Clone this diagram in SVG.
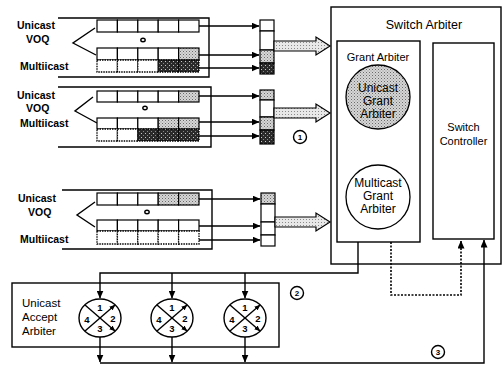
<svg xmlns="http://www.w3.org/2000/svg" width="504" height="367" viewBox="0 0 504 367">
<defs>
<pattern id="gray" width="3" height="3" patternUnits="userSpaceOnUse"><rect width="3" height="3" fill="#d6d6d6"/><rect x="0" y="0" width="1" height="1" fill="#6a6a6a"/><rect x="1.5" y="1.5" width="1" height="1" fill="#909090"/></pattern>
<pattern id="dark" width="4" height="4" patternUnits="userSpaceOnUse"><rect width="4" height="4" fill="#2a2a2a"/><rect x="1" y="1" width="1" height="1" fill="#c8c8c8"/><rect x="3" y="3" width="1" height="1" fill="#888"/></pattern>
<pattern id="light" width="3" height="3" patternUnits="userSpaceOnUse"><rect width="3" height="3" fill="#e8e8e8"/><rect x="0" y="0" width="1" height="1" fill="#8a8a8a"/></pattern>
<marker id="ah" markerWidth="8" markerHeight="7" refX="7.5" refY="3.5" orient="auto" markerUnits="userSpaceOnUse"><path d="M0,0 L8,3.5 L0,7 z" fill="#000"/></marker>
<marker id="sah" markerWidth="6" markerHeight="5" refX="5.5" refY="2.5" orient="auto" markerUnits="userSpaceOnUse"><path d="M0,0 L6,2.5 L0,5 z" fill="#000"/></marker>
</defs>
<style>
.ln{stroke:#000;stroke-width:1.4;fill:none}
.dot{stroke:#000;stroke-width:1.6;fill:none;stroke-dasharray:2 1.5}
.cell{fill:#fff;stroke:#000;stroke-width:1.2}
.gc{fill:url(#gray);stroke:#000;stroke-width:1.2}
.dc{fill:url(#dark);stroke:#000;stroke-width:1.2}
.mc{fill:#fff;stroke:#000;stroke-width:1.3;stroke-dasharray:1.5 1}
.mdc{fill:url(#dark);stroke:#000;stroke-width:1.3;stroke-dasharray:1.5 1}
.box{fill:#fff;stroke:#000;stroke-width:1.4}
.big{fill:url(#light);stroke:#000;stroke-width:1.2}
.t{font-family:"Liberation Sans",Arial,sans-serif;fill:#000}
.lb{font-size:10.5px;font-weight:bold}
.n{font-size:8px;font-weight:bold;text-anchor:middle}
.d{font-size:9.5px;font-weight:bold;text-anchor:middle}
.c{text-anchor:middle}
</style>

<g id="voq1">
<path class="ln" d="M58,18 H209 V77 H58"/>
<text class="t lb" x="17" y="29">Unicast</text>
<text class="t lb" x="26" y="43">VOQ</text>
<text class="t lb" x="20" y="70">Multiicast</text>
<path class="ln" d="M95,28 L73,43 L96,55"/>
<ellipse cx="143" cy="40" rx="2.2" ry="1.8" class="ln"/>
<rect class="cell" x="97" y="20" width="20.4" height="12"/><rect class="cell" x="117.4" y="20" width="20.4" height="12"/><rect class="cell" x="137.8" y="20" width="20.4" height="12"/><rect class="cell" x="158.2" y="20" width="20.4" height="12"/><rect class="cell" x="178.6" y="20" width="20.4" height="12"/>
<rect class="cell" x="97" y="48" width="20.4" height="12"/><rect class="cell" x="117.4" y="48" width="20.4" height="12"/><rect class="cell" x="137.8" y="48" width="20.4" height="12"/><rect class="cell" x="158.2" y="48" width="20.4" height="12"/><rect class="gc" x="178.6" y="48" width="20.4" height="12"/>
<rect class="mc" x="97" y="60" width="20.4" height="12"/><rect class="mc" x="117.4" y="60" width="20.4" height="12"/><rect class="mc" x="137.8" y="60" width="20.4" height="12"/><rect class="mdc" x="158.2" y="60" width="20.4" height="12"/><rect class="mdc" x="178.6" y="60" width="20.4" height="12"/>
</g>

<g id="voq2">
<path class="ln" d="M58,87 H211 V147 H58"/>
<text class="t lb" x="17" y="99">Unicast</text>
<text class="t lb" x="26" y="112">VOQ</text>
<text class="t lb" x="20" y="127">Multiicast</text>
<path class="ln" d="M93,97 L75,111 L97,123"/>
<ellipse cx="145" cy="108" rx="2.2" ry="1.8" class="ln"/>
<rect class="cell" x="97" y="91" width="20.4" height="11"/><rect class="cell" x="117.4" y="91" width="20.4" height="11"/><rect class="cell" x="137.8" y="91" width="20.4" height="11"/><rect class="cell" x="158.2" y="91" width="20.4" height="11"/><rect class="gc" x="178.6" y="91" width="20.4" height="11"/>
<rect class="cell" x="97" y="118" width="20.4" height="11"/><rect class="cell" x="117.4" y="118" width="20.4" height="11"/><rect class="cell" x="137.8" y="118" width="20.4" height="11"/><rect class="gc" x="158.2" y="118" width="20.4" height="11"/><rect class="gc" x="178.6" y="118" width="20.4" height="11"/>
<rect class="mc" x="97" y="129" width="20.4" height="12"/><rect class="mc" x="117.4" y="129" width="20.4" height="12"/><rect class="mdc" x="137.8" y="129" width="20.4" height="12"/><rect class="mdc" x="158.2" y="129" width="20.4" height="12"/><rect class="mdc" x="178.6" y="129" width="20.4" height="12"/>
</g>

<g id="voq3">
<path class="ln" d="M62,190 H212 V249 H62"/>
<text class="t lb" x="18" y="202">Unicast</text>
<text class="t lb" x="28" y="216">VOQ</text>
<text class="t lb" x="20" y="243">Multiicast</text>
<path class="ln" d="M95,202 L77,215 L95,227"/>
<ellipse cx="147" cy="212" rx="2.2" ry="1.8" class="ln"/>
<rect class="cell" x="97" y="193" width="20.4" height="12"/><rect class="cell" x="117.4" y="193" width="20.4" height="12"/><rect class="cell" x="137.8" y="193" width="20.4" height="12"/><rect class="gc" x="158.2" y="193" width="20.4" height="12"/><rect class="gc" x="178.6" y="193" width="20.4" height="12"/>
<rect class="cell" x="97" y="220" width="20.4" height="11"/><rect class="cell" x="117.4" y="220" width="20.4" height="11"/><rect class="cell" x="137.8" y="220" width="20.4" height="11"/><rect class="cell" x="158.2" y="220" width="20.4" height="11"/><rect class="cell" x="178.6" y="220" width="20.4" height="11"/>
<rect class="mc" x="97" y="231" width="20.4" height="13"/><rect class="mc" x="117.4" y="231" width="20.4" height="13"/><rect class="mc" x="137.8" y="231" width="20.4" height="13"/><rect class="mc" x="158.2" y="231" width="20.4" height="13"/><rect class="mc" x="178.6" y="231" width="20.4" height="13"/>
</g>

<g id="col1">
<rect class="cell" x="260" y="20" width="14" height="11"/><rect class="cell" x="260" y="31" width="14" height="19"/><rect class="gc" x="260" y="50" width="14" height="13"/><rect class="dc" x="260" y="63" width="14" height="11"/>
</g>
<g id="col2">
<rect class="gc" x="260" y="90" width="14" height="10"/><rect class="cell" x="260" y="100" width="14" height="17"/><rect class="gc" x="260" y="117" width="14" height="13"/><rect class="dc" x="260" y="130" width="14" height="14"/>
</g>
<g id="col3">
<rect class="gc" x="261" y="193" width="14" height="11"/><rect class="cell" x="261" y="204" width="14" height="18"/><rect class="cell" x="261" y="222" width="14" height="13"/><rect class="cell" x="261" y="235" width="14" height="11"/>
</g>

<g id="switch-arbiter">
<rect class="box" x="331" y="7" width="170" height="257"/>
<text class="t c" x="424" y="29" font-size="12.5">Switch Arbiter</text>
</g>
<g id="grant-arbiter">
<rect class="box" x="337" y="41" width="83" height="201"/>
<text class="t c" x="378" y="61" font-size="11">Grant Arbiter</text>
</g>
<g id="unicast-grant-arbiter">
<circle cx="378" cy="97" r="32" fill="url(#gray)" stroke="#000" stroke-width="1.3"/>
<text class="t c" x="378" y="92" font-size="12">Unicast</text>
<text class="t c" x="378" y="105" font-size="12">Grant</text>
<text class="t c" x="378" y="118" font-size="12">Arbiter</text>
</g>
<g id="multicast-grant-arbiter">
<circle cx="378" cy="197" r="32" fill="#fff" stroke="#000" stroke-width="1.3"/>
<text class="t c" x="378" y="187" font-size="12">Multicast</text>
<text class="t c" x="378" y="200" font-size="12">Grant</text>
<text class="t c" x="378" y="213" font-size="12">Arbiter</text>
</g>
<g id="switch-controller">
<rect class="box" x="433" y="43" width="61" height="196"/>
<text class="t c" x="463.5" y="131" font-size="11">Switch</text>
<text class="t c" x="463.5" y="145" font-size="11">Controller</text>
</g>

<g id="accept-arbiter">
<rect class="box" x="12" y="283" width="267" height="64" fill="none"/>
<text class="t" x="22" y="307" font-size="11.5">Unicast</text>
<text class="t" x="22" y="321" font-size="11.5">Accept</text>
<text class="t" x="22" y="335" font-size="11.5">Arbiter</text>
</g>
<g id="rr1">
<ellipse cx="100" cy="318" rx="21" ry="19" class="box"/>
<line x1="85" y1="305" x2="115" y2="331" class="ln" marker-end="url(#sah)"/>
<line x1="85" y1="331" x2="115" y2="305" class="ln" marker-end="url(#sah)"/>
<text class="t d" x="100" y="311">1</text><text class="t d" x="113" y="322">2</text><text class="t d" x="100" y="332">3</text><text class="t d" x="87" y="323">4</text>
</g>
<g id="rr2">
<ellipse cx="172" cy="318" rx="21" ry="19" class="box"/>
<line x1="157" y1="305" x2="187" y2="331" class="ln" marker-end="url(#sah)"/>
<line x1="157" y1="331" x2="187" y2="305" class="ln" marker-end="url(#sah)"/>
<text class="t d" x="172" y="311">1</text><text class="t d" x="185" y="322">2</text><text class="t d" x="172" y="332">3</text><text class="t d" x="159" y="323">4</text>
</g>
<g id="rr3">
<ellipse cx="245" cy="318" rx="21" ry="19" class="box"/>
<line x1="230" y1="305" x2="260" y2="331" class="ln" marker-end="url(#sah)"/>
<line x1="230" y1="331" x2="260" y2="305" class="ln" marker-end="url(#sah)"/>
<text class="t d" x="245" y="311">1</text><text class="t d" x="258" y="322">2</text><text class="t d" x="245" y="332">3</text><text class="t d" x="232" y="323">4</text>
</g>

<g id="step-labels">
<circle cx="300" cy="137" r="6.5" class="ln" fill="#fff"/><text class="t n" x="300" y="140">1</text>
<circle cx="297" cy="293" r="6.5" class="ln" fill="#fff"/><text class="t n" x="297" y="296">2</text>
<circle cx="438" cy="352" r="6.5" class="ln" fill="#fff"/><text class="t n" x="438" y="355">3</text>
</g>

<g id="connectors">
<line class="ln" x1="199" y1="26" x2="259" y2="26" marker-end="url(#ah)"/>
<line class="ln" x1="199" y1="55" x2="259" y2="55" marker-end="url(#ah)"/>
<line class="ln" x1="199" y1="68" x2="259" y2="68" marker-end="url(#ah)"/>
<line class="ln" x1="199" y1="96" x2="259" y2="96" marker-end="url(#ah)"/>
<line class="ln" x1="199" y1="122" x2="259" y2="122" marker-end="url(#ah)"/>
<line class="ln" x1="199" y1="136" x2="259" y2="136" marker-end="url(#ah)"/>
<line class="ln" x1="199" y1="199" x2="260" y2="199" marker-end="url(#ah)"/>
<line class="ln" x1="199" y1="226" x2="260" y2="226" marker-end="url(#ah)"/>
<line class="ln" x1="199" y1="240" x2="260" y2="240" marker-end="url(#ah)"/>
<polygon class="big" points="274,41 316,41 316,37 330,46 316,55 316,51 274,51"/>
<polygon class="big" points="274,108 316,108 316,104 330,113 316,122 316,118 274,118"/>
<polygon class="big" points="275,217 316,217 316,213 330,222 316,231 316,227 275,227"/>
<path class="ln" d="M358,242 V273 H100 V298" marker-end="url(#ah)"/>
<line class="ln" x1="172" y1="273" x2="172" y2="298" marker-end="url(#ah)"/>
<line class="ln" x1="245" y1="273" x2="245" y2="298" marker-end="url(#ah)"/>
<line class="ln" x1="100" y1="337" x2="100" y2="362" marker-end="url(#ah)"/>
<line class="ln" x1="172" y1="337" x2="172" y2="362" marker-end="url(#ah)"/>
<line class="ln" x1="245" y1="337" x2="245" y2="362" marker-end="url(#ah)"/>
<path class="ln" d="M100,363 H484 V240" marker-end="url(#ah)"/>
<path class="dot" d="M391,242 V295 H461 V241" marker-end="url(#ah)"/>
</g>
</svg>
